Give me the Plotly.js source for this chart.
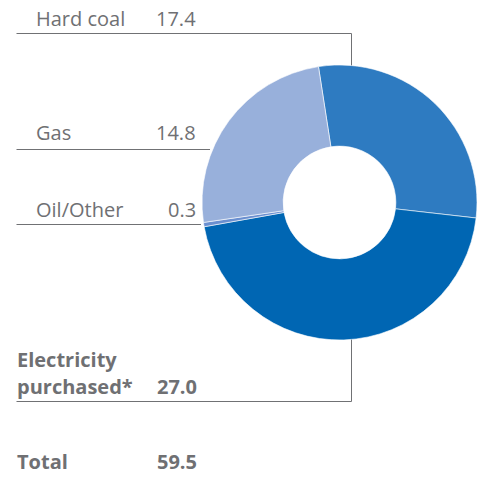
<!DOCTYPE html>
<html>
<head>
<meta charset="utf-8">
<script src="https://cdn.plot.ly/plotly-3.0.1.min.js"></script>
<style>html,body{margin:0;padding:0;background:#fff;}#chart{width:477px;height:478px;}</style>
</head>
<body>
<div id="chart"></div>
<script>
// Data (values in the same order as drawn, clockwise from the top)
const categories = ["Hard coal", "Electricity<br>purchased*", "Oil/Other", "Gas"];
const values = [17.4, 27.0, 0.3, 14.8];
const valueLabels = ["17.4", "27.0", "0.3", "14.8"];
const totalLabel = "Total";
const totalValue = "59.5";

// Styles
const sliceColors = ["#2e7bc1", "#0066b3", "#6a8fd0", "#98b0db"];
const W = 477, H = 478;
const px = x => x / W;
const py = y => 1 - y / H;
const grey = "#6f7073";
const lineGrey = "#707174";
const FS = 20;

const pie = {
  type: "pie",
  labels: categories,
  values: values,
  sort: false,
  direction: "clockwise",
  rotation: -8.8,
  hole: 0.41,
  textinfo: "none",
  hoverinfo: "label+value",
  marker: {colors: sliceColors, line: {color: "#ffffff", width: 0.6}},
  domain: {x: [px(202), px(477)], y: [py(340), py(65)]},
  showlegend: false
};

const rows = [
  {i: 0, y: 18},
  {i: 3, y: 133},
  {i: 2, y: 209}
];
const annotations = [];
const fam = "'Open Sans', 'Noto Sans', sans-serif";
const ann = (x, y, anchor, text) => ({xref: "paper", yref: "paper", x: px(x), y: py(y), xanchor: anchor, yanchor: "middle",
  text: text, showarrow: false, font: {family: fam, size: FS, color: grey}});
rows.forEach(r => {
  annotations.push(ann(34, r.y, "left", categories[r.i]));
  annotations.push(ann(198, r.y, "right", valueLabels[r.i]));
});
const elecLines = categories[1].split("<br>");
annotations.push(ann(15, 359.5, "left", "<b>" + elecLines[0] + "</b>"));
annotations.push(ann(15, 386.5, "left", "<b>" + elecLines[1] + "</b>"));
annotations.push(ann(199, 386.5, "right", "<b>" + valueLabels[1] + "</b>"));
annotations.push(ann(15, 461.5, "left", "<b>" + totalLabel + "</b>"));
annotations.push(ann(199, 461.5, "right", "<b>" + totalValue + "</b>"));

const ln = (x0, y0, x1, y1) => ({type: "line", xref: "paper", yref: "paper", x0: px(x0), y0: py(y0), x1: px(x1), y1: py(y1),
  line: {color: lineGrey, width: 1}, layer: "below"});
const shapes = [
  ln(16.5, 33.5, 351.5, 33.5), ln(351.5, 33.5, 351.5, 68),
  ln(16.5, 149.5, 210, 149.5),
  ln(16.5, 224.5, 201, 224.5),
  ln(16.5, 401.5, 351.5, 401.5), ln(351.5, 401.5, 351.5, 338)
];

const layout = {
  width: W, height: H,
  margin: {l: 0, r: 0, t: 0, b: 0, pad: 0},
  paper_bgcolor: "#ffffff",
  plot_bgcolor: "#ffffff",
  annotations: annotations,
  shapes: shapes,
  showlegend: false
};
Plotly.newPlot("chart", [pie], layout, {displayModeBar: false, staticPlot: true});
</script>
</body>
</html>
